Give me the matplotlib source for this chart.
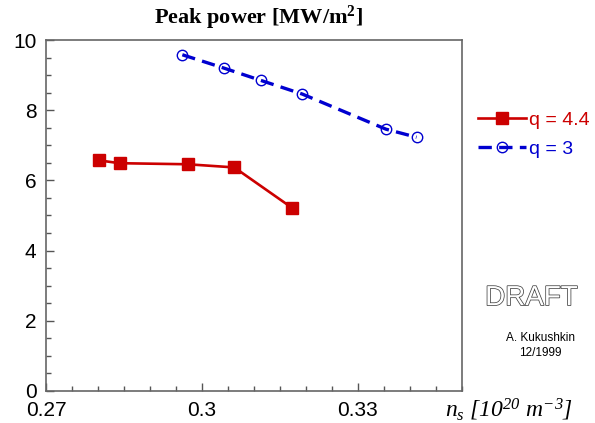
import matplotlib.pyplot as plt
import matplotlib.patheffects as pe
from matplotlib.ticker import MultipleLocator

# q = 4.4 series
ns_q44 = [0.2802, 0.2841, 0.2972, 0.3062, 0.3173]
pp_q44 = [6.57, 6.49, 6.46, 6.37, 5.22]

# q = 3 series
ns_q3 = [0.2962, 0.3042, 0.3113, 0.3193, 0.3354, 0.3413]
pp_q3 = [9.58, 9.20, 8.85, 8.46, 7.46, 7.23]

xticks = [0.27, 0.30, 0.33]
xticklabels = ['0.27', '0.3', '0.33']
yticks = [0, 2, 4, 6, 8, 10]

plt.rcParams['font.family'] = ['Liberation Sans', 'DejaVu Sans']
plt.rcParams['mathtext.fontset'] = 'custom'
plt.rcParams['mathtext.rm'] = 'Liberation Serif:italic'
plt.rcParams['mathtext.it'] = 'Liberation Serif:italic'
plt.rcParams['mathtext.bf'] = 'Liberation Serif:bold'

fig = plt.figure(figsize=(5.95, 4.23), dpi=100)
ax = fig.add_axes([0.0778, 0.0757, 0.6982, 0.8297])

red = '#cc0000'
blue = '#0000d0'

ax.plot(ns_q44, pp_q44, color=red, lw=1.9, marker='s', ms=8.5,
        label='q = 4.4')
ax.plot(ns_q3, pp_q3, color=blue, lw=2.4, dashes=(4, 2.2), marker='o',
        ms=7.5, mfc='none', mec=blue, mew=1.0, label='q = 3')

ax.set_xlim(0.27, 0.35)
ax.set_ylim(0, 10)
ax.set_xticks(xticks)
ax.set_xticklabels(xticklabels)
ax.set_yticks(yticks)
ax.xaxis.set_minor_locator(MultipleLocator(0.005))
ax.yaxis.set_minor_locator(MultipleLocator(0.5))
ax.tick_params(which='both', direction='in', colors='#555555',
               labelcolor='black', labelsize=15, width=1)
ax.tick_params(which='major', length=6)
ax.tick_params(which='minor', length=3.5)
ax.tick_params(axis='x', pad=7)
ax.tick_params(axis='y', pad=7)
for s in ax.spines.values():
    s.set_color('#666666')
    s.set_linewidth(1.2)

fig.text(0.434, 0.957, r'Peak power [MW/m$^\mathbf{2}$]', ha='center',
         va='center', fontsize=16, fontweight='bold',
         family='Liberation Serif')

fig.text(0.748, 0.032, r'$n_s$ [10$^{20}$ m$^{-3}$]', ha='left',
         va='center', fontsize=17, family='Liberation Serif',
         fontstyle='italic')

fig.legend(loc='upper left', bbox_to_anchor=(0.79, 0.755), frameon=False,
           fontsize=14, handlelength=2.5, handletextpad=0.15,
           labelspacing=0.6, labelcolor='linecolor', borderaxespad=0)

fig.text(0.893, 0.295, 'DRAFT', ha='center', va='center', fontsize=20,
         color='white',
         path_effects=[pe.withStroke(linewidth=1.1, foreground='#444444')])
fig.text(0.908, 0.2, 'A. Kukushkin', ha='center', va='center', fontsize=8.5)
fig.text(0.908, 0.165, '12/1999', ha='center', va='center', fontsize=8.5)

fig.savefig('out.png', dpi=100)
